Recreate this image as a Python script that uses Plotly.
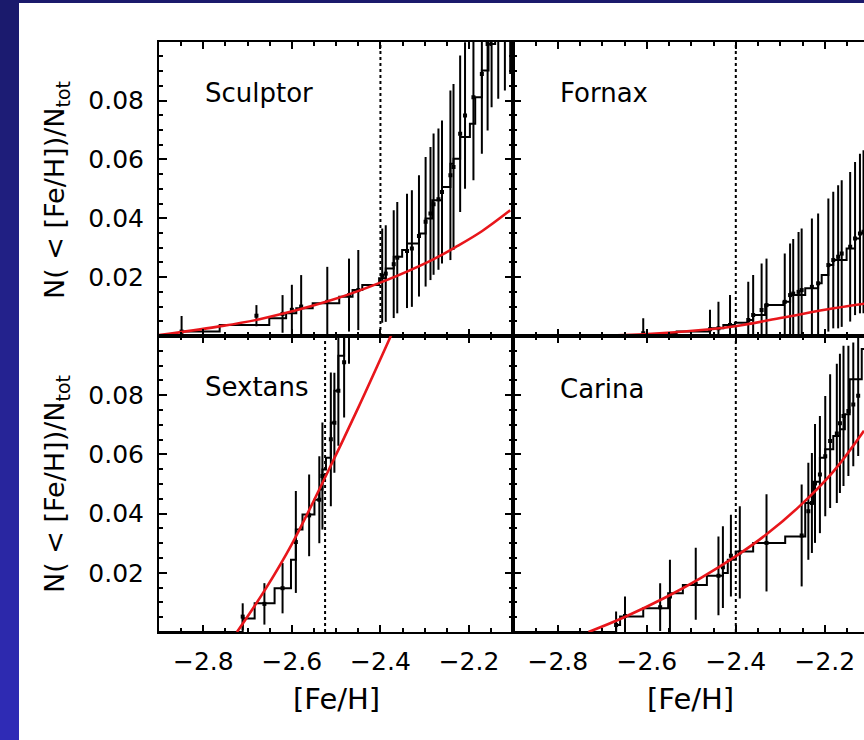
import plotly.graph_objects as go

# ---------------- data ----------------
panel_names = ["Sculptor", "Fornax", "Sextans", "Carina"]
feh_cut = [-2.4, -2.4, -2.525, -2.4]

# Sculptor
scl_step_x = [-2.9, -2.849, -2.763, -2.651, -2.613, -2.590, -2.553, -2.493, -2.463, -2.441,
              -2.403, -2.388, -2.370, -2.351, -2.340, -2.313, -2.298, -2.283, -2.261, -2.242,
              -2.235, -2.220, -2.198, -2.186, -2.171, -2.156, -2.141]
scl_step_y = [0.0, 0.0015, 0.0037, 0.0060, 0.0077, 0.0094, 0.0111, 0.0133, 0.0156, 0.0173,
              0.0196, 0.0229, 0.0269, 0.0292, 0.0314, 0.0348, 0.0399, 0.0461, 0.0506, 0.0585,
              0.0602, 0.0676, 0.0721, 0.0811, 0.0902, 0.0992, 0.1100]
scl_bar_x = [-2.849, -2.680, -2.621, -2.600, -2.579, -2.520, -2.471, -2.450, -2.396, -2.388,
             -2.370, -2.362, -2.340, -2.329, -2.313, -2.298, -2.287, -2.280, -2.269, -2.261,
             -2.242, -2.235, -2.220, -2.209, -2.190, -2.171, -2.158, -2.149, -2.134, -2.119, -2.107]
scl_bar_y = [0.0015, 0.0069, 0.0075, 0.0089, 0.0100, 0.0116, 0.0139, 0.0156, 0.0205, 0.0212,
             0.0244, 0.0266, 0.0289, 0.0297, 0.0340, 0.0388, 0.0416, 0.0448, 0.0465, 0.0489,
             0.0546, 0.0574, 0.0687, 0.0749, 0.0811, 0.0890, 0.0992, 0.1071, 0.1094, 0.1128, 0.1184]
scl_bar_e = [0.0053, 0.0036, 0.0064, 0.0085, 0.0107, 0.0119, 0.0124, 0.0136, 0.0160, 0.0164,
             0.0183, 0.0189, 0.0194, 0.0198, 0.0206, 0.0220, 0.0226, 0.0240, 0.0240, 0.0243,
             0.0288, 0.0282, 0.0266, 0.0249, 0.0282, 0.0271, 0.0294, 0.0294, 0.0288, 0.0294, 0.0294]
scl_fit_x = [-2.9, -2.77, -2.673, -2.523, -2.396, -2.284, -2.227, -2.171, -2.107]
scl_fit_y = [0.0003, 0.0031, 0.0057, 0.0116, 0.0184, 0.0258, 0.0305, 0.0356, 0.0427]

# Fornax
fnx_step_x = [-2.9, -2.608, -2.533, -2.458, -2.428, -2.402, -2.372, -2.361, -2.334, -2.293,
              -2.278, -2.244, -2.215, -2.207, -2.192, -2.181, -2.151, -2.132, -2.121, -2.100]
fnx_step_y = [0.0, 0.0007, 0.0015, 0.0026, 0.0037, 0.0045, 0.0054, 0.0071, 0.0105, 0.0116,
              0.0139, 0.0162, 0.0179, 0.0207, 0.0241, 0.0258, 0.0297, 0.0331, 0.0348, 0.0348]
fnx_bar_x = [-2.608, -2.458, -2.439, -2.413, -2.372, -2.361, -2.342, -2.331, -2.290, -2.278,
             -2.271, -2.259, -2.252, -2.229, -2.215, -2.192, -2.181, -2.170, -2.162, -2.143,
             -2.132, -2.121, -2.113]
fnx_bar_y = [0.0009, 0.0023, 0.0026, 0.0037, 0.0054, 0.0071, 0.0088, 0.0105, 0.0116, 0.0139,
             0.0144, 0.0150, 0.0156, 0.0167, 0.0179, 0.0241, 0.0258, 0.0269, 0.0280, 0.0303,
             0.0331, 0.0348, 0.0354]
fnx_bar_e = [0.0051, 0.0066, 0.0090, 0.0102, 0.0130, 0.0136, 0.0158, 0.0158, 0.0164, 0.0175,
             0.0186, 0.0203, 0.0209, 0.0232, 0.0237, 0.0226, 0.0232, 0.0243, 0.0249, 0.0254,
             0.0260, 0.0271, 0.0277]
fnx_fit_x = [-2.75, -2.607, -2.458, -2.398, -2.293, -2.18, -2.111]
fnx_fit_y = [0.0, 0.0006, 0.0023, 0.0034, 0.0063, 0.0094, 0.0110]

# Sextans
sex_step_x = [-2.9, -2.711, -2.684, -2.639, -2.602, -2.591, -2.576, -2.549, -2.538, -2.531,
              -2.523, -2.512, -2.504, -2.495, -2.482]
sex_step_y = [0.0, 0.0046, 0.0097, 0.0148, 0.0244, 0.0346, 0.0397, 0.0447, 0.0481, 0.0549,
              0.0589, 0.0707, 0.0815, 0.0933, 0.1024]
sex_bar_x = [-2.711, -2.662, -2.621, -2.591, -2.561, -2.538, -2.531, -2.512, -2.504, -2.495,
             -2.482, -2.471]
sex_bar_y = [0.0052, 0.0095, 0.0148, 0.0304, 0.0394, 0.0447, 0.0527, 0.0651, 0.0707, 0.0815,
             0.0911, 0.1013]
sex_bar_e = [0.0045, 0.0070, 0.0085, 0.0172, 0.0138, 0.0147, 0.0181, 0.0226, 0.0169, 0.0186,
             0.0186, 0.0107]
sex_fit_x = [-2.724, -2.66, -2.60, -2.525, -2.45, -2.376]
sex_fit_y = [0.0, 0.0144, 0.0297, 0.0522, 0.0758, 0.1002]

# Carina
car_step_x = [-2.9, -2.669, -2.660, -2.608, -2.552, -2.519, -2.465, -2.429, -2.418, -2.400,
              -2.361, -2.289, -2.244, -2.226, -2.211, -2.199, -2.181, -2.166, -2.155, -2.144,
              -2.117, -2.100]
car_step_y = [0.0, 0.0024, 0.0052, 0.0080, 0.0131, 0.0159, 0.0190, 0.0199, 0.0244, 0.0272,
              0.0301, 0.0323, 0.0436, 0.0508, 0.0589, 0.0617, 0.0662, 0.0685, 0.0736, 0.0854,
              0.0956, 0.0956]
car_bar_x = [-2.669, -2.649, -2.570, -2.548, -2.490, -2.439, -2.429, -2.411, -2.391, -2.331,
             -2.252, -2.237, -2.229, -2.222, -2.211, -2.199, -2.188, -2.173, -2.166, -2.158,
             -2.147, -2.136, -2.125]
car_bar_y = [0.0024, 0.0054, 0.0084, 0.0120, 0.0163, 0.0190, 0.0219, 0.0258, 0.0269, 0.0301,
             0.0326, 0.0408, 0.0436, 0.0502, 0.0532, 0.0594, 0.0645, 0.0671, 0.0705, 0.0730,
             0.0747, 0.0769, 0.0798]
car_bar_e = [0.0045, 0.0066, 0.0081, 0.0124, 0.0122, 0.0133, 0.0138, 0.0138, 0.0156, 0.0164,
             0.0172, 0.0164, 0.0169, 0.0201, 0.0198, 0.0203, 0.0226, 0.0235, 0.0235, 0.0237,
             0.0220, 0.0209, 0.0203]
car_fit_x = [-2.731, -2.652, -2.555, -2.480, -2.398, -2.331, -2.256, -2.181, -2.112]
car_fit_y = [0.0, 0.0049, 0.0119, 0.0181, 0.0258, 0.0330, 0.0426, 0.0542, 0.0680]

x_tick_vals = [-2.8, -2.6, -2.4, -2.2]
y_tick_vals = [0.02, 0.04, 0.06, 0.08]
y_tick_text = ["0.02", "0.04", "0.06", "0.08"]
x_title = "[Fe/H]"
y_title = "N( < [Fe/H])/N<sub>tot</sub>"

panels = [
    (scl_step_x, scl_step_y, scl_bar_x, scl_bar_y, scl_bar_e, scl_fit_x, scl_fit_y),
    (fnx_step_x, fnx_step_y, fnx_bar_x, fnx_bar_y, fnx_bar_e, fnx_fit_x, fnx_fit_y),
    (sex_step_x, sex_step_y, sex_bar_x, sex_bar_y, sex_bar_e, sex_fit_x, sex_fit_y),
    (car_step_x, car_step_y, car_bar_x, car_bar_y, car_bar_e, car_fit_x, car_fit_y),
]

# ---------------- layout geometry ----------------
W, H = 864, 740
xL = [159 / W, 513.3 / W]
xR = [513.3 / W, 1.0]
yT = [1 - 336 / H, 1 - 41.7 / H]
yB = [1 - 632 / H, 1 - 336 / H]
xrange_L = [-2.9, -2.1]
xrange_R = [-2.9, -2.9 + (W - 513.3) / 445.0]
yrange = [0, 0.1]

FONT = "DejaVu Sans"
fig = go.Figure()

for i, (sx, sy, bx, by, be, fx, fy) in enumerate(panels):
    xa = "x" if i == 0 else f"x{i+1}"
    ya = "y" if i == 0 else f"y{i+1}"
    fig.add_trace(go.Scatter(x=[feh_cut[i], feh_cut[i]], y=yrange, mode="lines",
                             line=dict(color="black", width=2, dash="dot"),
                             xaxis=xa, yaxis=ya, hoverinfo="skip"))
    fig.add_trace(go.Scatter(x=sx, y=sy, mode="lines",
                             line=dict(color="black", width=2, shape="hv"),
                             xaxis=xa, yaxis=ya))
    fig.add_trace(go.Scatter(x=bx, y=by, mode="markers",
                             marker=dict(symbol="square", size=4, color="black"),
                             error_y=dict(type="data", array=be, symmetric=True,
                                          color="black", thickness=2, width=0),
                             xaxis=xa, yaxis=ya))
    fig.add_trace(go.Scatter(x=fx, y=fy, mode="lines",
                             line=dict(color="#e8161b", width=2.6, shape="spline",
                                       smoothing=1.0),
                             xaxis=xa, yaxis=ya))

tickfont = dict(family=FONT, size=25, color="black")


def xaxis_cfg(domain, rng, anchor, labels):
    return dict(domain=domain, range=rng, anchor=anchor, showline=True, linewidth=2,
                linecolor="black", mirror="ticks", ticks="inside", ticklen=7, tickwidth=2,
                tickcolor="black", tickmode="array", tickvals=x_tick_vals,
                showticklabels=labels, tickfont=tickfont, ticklabelstandoff=6,
                showgrid=False, zeroline=False,
                minor=dict(ticks="inside", ticklen=4, tickwidth=1.5, tickcolor="black",
                           tickmode="linear", tick0=-2.8, dtick=0.05, showgrid=False))


def yaxis_cfg(domain, anchor, labels, mirror):
    return dict(domain=domain, range=yrange, anchor=anchor, showline=True, linewidth=2,
                linecolor="black", mirror=mirror, ticks="inside", ticklen=8, tickwidth=2,
                tickcolor="black", tickmode="array", tickvals=y_tick_vals,
                ticktext=y_tick_text, showticklabels=labels, tickfont=tickfont,
                ticklabelstandoff=8, showgrid=False, zeroline=False,
                minor=dict(ticks="inside", ticklen=4, tickwidth=1.5, tickcolor="black",
                           tickmode="linear", tick0=0, dtick=0.005, showgrid=False))


fig.update_layout(
    xaxis=xaxis_cfg(xL, xrange_L, "y", False),
    yaxis=yaxis_cfg(yT, "x", True, "ticks"),
    xaxis2=xaxis_cfg(xR, xrange_R, "y2", False),
    yaxis2=yaxis_cfg(yT, "x2", False, False),
    xaxis3=xaxis_cfg(xL, xrange_L, "y3", True),
    yaxis3=yaxis_cfg(yB, "x3", True, "ticks"),
    xaxis4=xaxis_cfg(xR, xrange_R, "y4", True),
    yaxis4=yaxis_cfg(yB, "x4", False, False),
)

# panel names
annos = []
name_pos = [("x", "y", 0.0827), ("x2", "y2", 0.0827), ("x3", "y3", 0.0827), ("x4", "y4", 0.082)]
for name, (xa, ya, yy) in zip(panel_names, name_pos):
    annos.append(dict(text=name, x=-2.80, y=yy, xref=xa, yref=ya, xanchor="left",
                      yanchor="middle", showarrow=False,
                      font=dict(family=FONT, size=26, color="black")))
# axis titles
for cx in [336, 690]:
    annos.append(dict(text=x_title, x=cx / W, y=1 - 699 / H, xref="paper", yref="paper",
                      xanchor="center", yanchor="middle", showarrow=False,
                      font=dict(family=FONT, size=29, color="black")))
for cy in [190, 484]:
    annos.append(dict(text=y_title, x=56 / W, y=1 - cy / H, xref="paper", yref="paper",
                      xanchor="center", yanchor="middle", showarrow=False, textangle=-90,
                      font=dict(family=FONT, size=27, color="black")))

# slide background: dark strip on top, blue gradient strip on the left
shapes = [dict(type="rect", xref="paper", yref="paper", x0=0, x1=1, y0=1 - 3 / H, y1=1,
               fillcolor="#1b1a6c", line=dict(width=0))]
nb = 37
c0 = (26, 26, 108)
c1 = (47, 43, 182)
for k in range(nb):
    t = k / (nb - 1)
    col = "rgb(%d,%d,%d)" % tuple(round(c0[j] + (c1[j] - c0[j]) * t) for j in range(3))
    shapes.append(dict(type="rect", xref="paper", yref="paper", x0=0, x1=19 / W,
                       y0=1 - (k + 1) * 20 / H, y1=1 - k * 20 / H,
                       fillcolor=col, line=dict(width=0)))

fig.update_layout(width=W, height=H, margin=dict(l=0, r=0, t=0, b=0),
                  paper_bgcolor="white", plot_bgcolor="white", showlegend=False,
                  annotations=annos, shapes=shapes)

fig.write_html("out.html", config={"displayModeBar": False},
               post_script="document.body.style.margin='0';document.body.style.padding='0';"
                           "document.documentElement.style.overflow='hidden';")
